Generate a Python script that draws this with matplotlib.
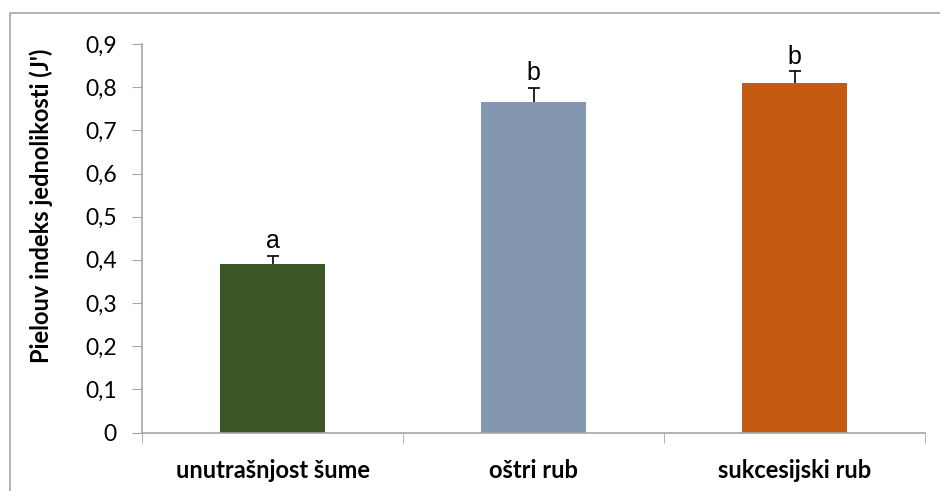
import numpy as np
import matplotlib
matplotlib.use("Agg")
import matplotlib.pyplot as plt
from matplotlib.lines import Line2D

# kategorije staništa i Pielouov indeks (J') sa SE
categories = ["unutrašnjost šume", "oštri rub", "sukcesijski rub"]
values = [0.391, 0.765, 0.809]
errors = [0.019, 0.034, 0.028]
letters = ["a", "b", "b"]
colors = ["#3b5624", "#8497b0", "#c55a11"]
yticks = [0.0, 0.1, 0.2, 0.3, 0.4, 0.5, 0.6, 0.7, 0.8, 0.9]

W, H = 940, 491
fig = plt.figure(figsize=(W / 100, H / 100), dpi=100)
ax = fig.add_axes([142 / W, 1 - 432.5 / H, (925 - 142) / W, (432.5 - 44) / H])

x = np.arange(len(categories))
# SE crtan iza stupaca, pa se vidi samo gornji dio
ax.errorbar(x, values, yerr=errors, fmt="none",
            ecolor="black", elinewidth=1.2, capsize=4.5, capthick=1.2, zorder=1)
ax.bar(x, values, width=0.4, color=colors, zorder=2)
for xi, v, e, lab in zip(x, values, errors, letters):
    ax.text(xi, v + e + 0.006, lab, ha="center", va="bottom",
            fontsize=18, family="Liberation Sans")

ax.set_xlim(-0.5, len(categories) - 0.5)
ax.set_ylim(0, 0.9)
ax.set_yticks(yticks)
ax.set_yticklabels([f"{t:.1f}".replace(".", ",") if t else "0" for t in yticks],
                   fontsize=16.5, family="Lato")
ax.set_xticks(x)
ax.set_xticklabels(categories, fontsize=17, fontweight="bold", family="Lato")
ax.set_xticks(np.arange(len(categories) + 1) - 0.5, minor=True)
ax.tick_params(axis="x", which="major", length=0, pad=19)
ax.tick_params(axis="x", which="minor", length=7, color="#a6a6a6", direction="out")
ax.tick_params(axis="y", length=7, color="#a6a6a6", pad=11)

for s in ["top", "right"]:
    ax.spines[s].set_visible(False)
for s in ["left", "bottom"]:
    ax.spines[s].set_color("#a6a6a6")
    ax.spines[s].set_linewidth(1.2)

fig.text(41 / W, 1 - 206 / H, "Pielouv indeks jednolikosti (J')", rotation=90,
         ha="center", va="center", fontsize=17, fontweight="bold", family="Lato")

# okvir grafikona (lijevo i gore)
fig.add_artist(Line2D([10 / W, 10 / W, 1.0], [0.0, 1 - 13 / H, 1 - 13 / H],
                      transform=fig.transFigure, color="#a6a6a6", lw=1.2))

fig.savefig("out.png", dpi=100)
